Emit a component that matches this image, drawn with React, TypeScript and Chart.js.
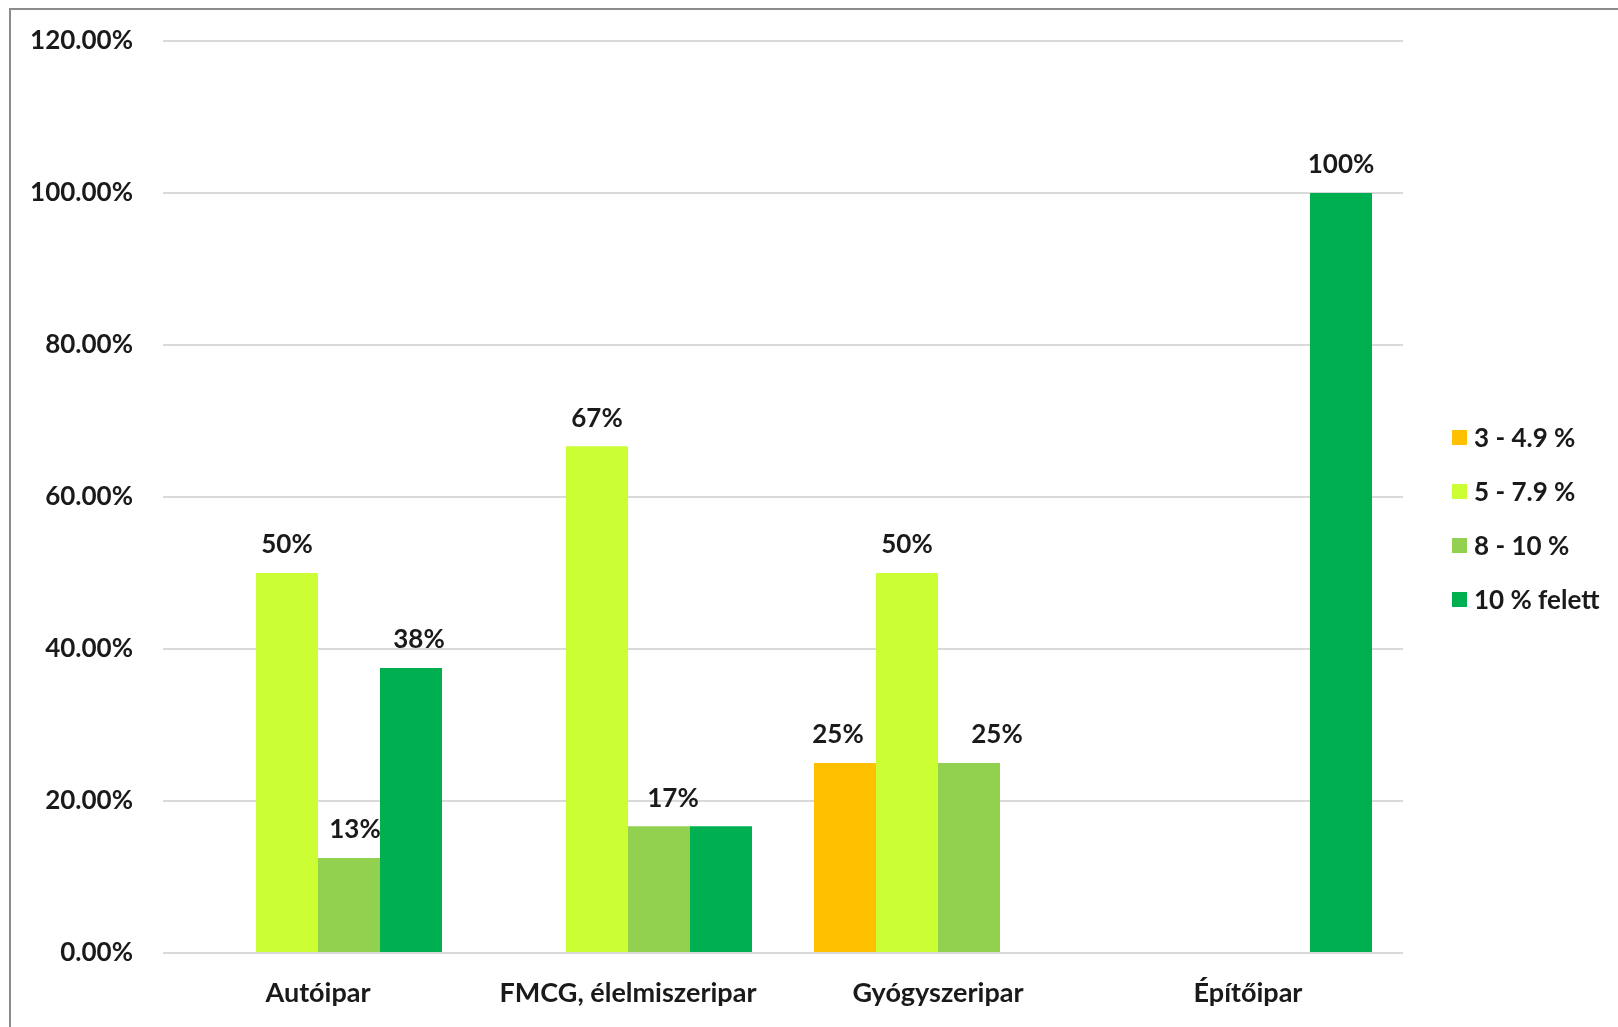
import React, { useEffect, useRef } from "react";
import { Chart, registerables } from "chart.js";

Chart.register(...registerables);

const categories = ["Autóipar", "FMCG, élelmiszeripar", "Gyógyszeripar", "Építőipar"];
const seriesNames = ["3 - 4.9 %", "5 - 7.9 %", "8 - 10 %", "10 % felett"];
const seriesColors = ["#FFC000", "#CCFF33", "#92D050", "#00B050"];
const s3to49: (number | null)[] = [null, null, 25, null];
const s5to79: (number | null)[] = [50, 66.67, 50, null];
const s8to10: (number | null)[] = [12.5, 16.67, 25, null];
const sOver10: (number | null)[] = [37.5, 16.67, null, 100];
const yTicks = [0, 20, 40, 60, 80, 100, 120];

const FONT = "Lato, 'Noto Sans', sans-serif";
const TEXT = "#1a1a1a";

export default function App() {
  const ref = useRef<HTMLCanvasElement | null>(null);

  useEffect(() => {
    if (!ref.current) return;
    // manual label placement tweaks (as in the source chart), keyed dataset-category
    const labelShift: Record<string, number> = { "2-0": 6, "3-0": 8, "2-1": 14, "0-2": -7, "2-2": 28 };
    const hiddenLabels = new Set(["3-1"]);
    const dataLabels = {
      id: "dataLabels",
      afterDatasetsDraw(chart: any) {
        const ctx = chart.ctx;
        ctx.save();
        ctx.font = `bold 26px ${FONT}`;
        ctx.fillStyle = TEXT;
        ctx.textAlign = "center";
        ctx.textBaseline = "middle";
        chart.data.datasets.forEach((ds: any, di: number) => {
          const meta = chart.getDatasetMeta(di);
          meta.data.forEach((bar: any, i: number) => {
            const v = ds.data[i];
            if (v === null || v === undefined) return;
            const key = `${di}-${i}`;
            if (hiddenLabels.has(key)) return;
            const dx = labelShift[key] || 0;
            ctx.fillText(Math.round(v) + "%", bar.x + dx, bar.y - 28);
          });
        });
        ctx.restore();
      },
    };
    const customLegend = {
      id: "customLegend",
      afterDraw(chart: any) {
        const ctx = chart.ctx;
        ctx.save();
        ctx.font = `bold 26px ${FONT}`;
        ctx.textAlign = "left";
        ctx.textBaseline = "middle";
        chart.data.datasets.forEach((ds: any, i: number) => {
          const cy = 437.5 + i * 54;
          ctx.fillStyle = ds.backgroundColor;
          ctx.fillRect(1452, cy - 7.5, 15, 15);
          ctx.fillStyle = TEXT;
          ctx.fillText(ds.label, 1474, cy + 1);
        });
        ctx.restore();
      },
    };
    const seriesData = [s3to49, s5to79, s8to10, sOver10];
    const chart = new Chart(ref.current, {
      type: "bar",
      data: {
        labels: categories,
        datasets: seriesNames.map((name, i) => ({
          label: name,
          data: seriesData[i],
          backgroundColor: seriesColors[i],
          borderWidth: 0,
          categoryPercentage: 0.8,
          barPercentage: 1,
        })),
      },
      options: {
        responsive: false,
        animation: false,
        devicePixelRatio: 1,
        layout: { padding: { top: 41, right: 215, bottom: 0, left: 0 } },
        plugins: { legend: { display: false }, tooltip: { enabled: false } },
        scales: {
          x: {
            grid: { display: false, drawTicks: false },
            border: { display: false },
            ticks: { color: TEXT, font: { family: FONT, size: 27, weight: "bold" }, padding: 24, maxRotation: 0 },
            afterFit(scale: any) {
              scale.height = 74;
            },
          },
          y: {
            min: 0,
            max: 120,
            afterBuildTicks(scale: any) {
              scale.ticks = yTicks.map((v) => ({ value: v }));
            },
            grid: { color: "#d9d9d9", lineWidth: 2, drawTicks: false },
            border: { display: false },
            ticks: {
              color: TEXT,
              font: { family: FONT, size: 26, weight: "bold" },
              padding: 30,
              callback: (v: any) => Number(v).toFixed(2) + "%",
            },
            afterFit(scale: any) {
              scale.width = 163;
              scale.paddingTop = 0;
              scale.paddingBottom = 0;
            },
          },
        },
      },
      plugins: [dataLabels, customLegend],
    });
    return () => chart.destroy();
  }, []);

  return (
    <div style={{ position: "fixed", left: 0, top: 0, width: 1618, height: 1027, overflow: "hidden", background: "#fff" }}>
      <div
        style={{
          position: "absolute",
          left: 9,
          top: 8,
          width: 1800,
          height: 1200,
          border: "2px solid #8c8c8c",
        }}
      />
      <canvas ref={ref} width={1618} height={1027} style={{ position: "absolute", left: 0, top: 0, width: 1618, height: 1027 }} />
    </div>
  );
}
